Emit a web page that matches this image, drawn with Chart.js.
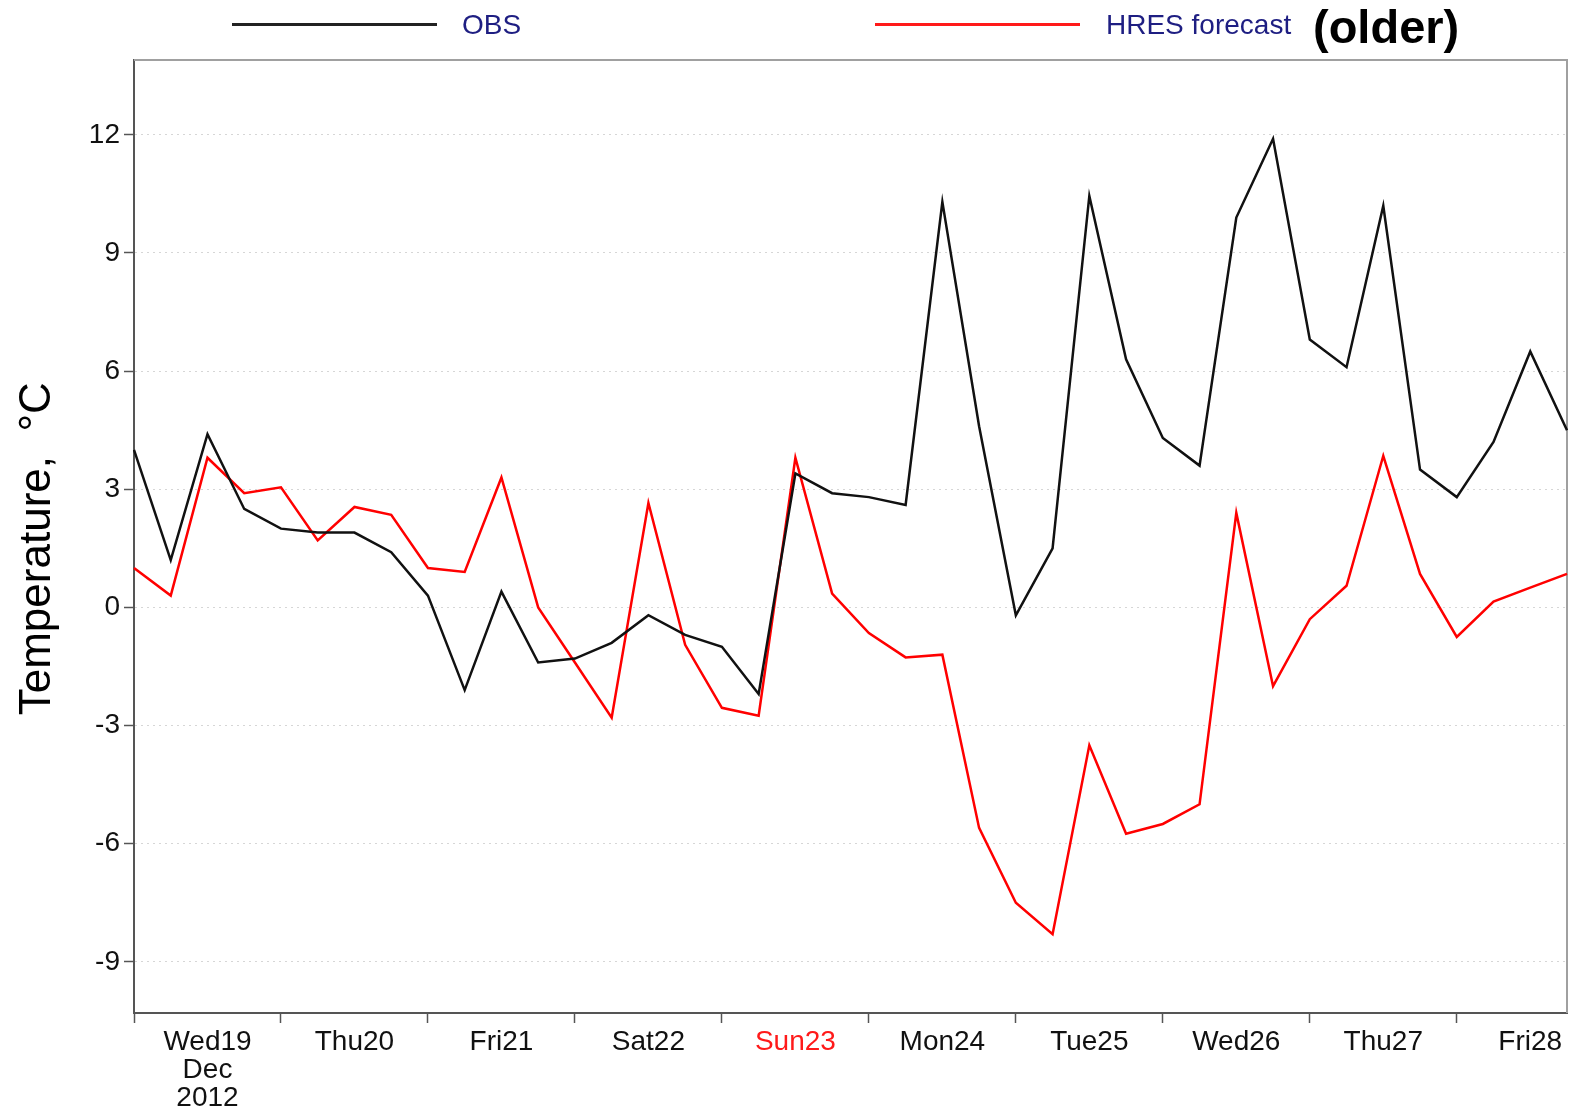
<!DOCTYPE html>
<html lang="en">
<head>
<meta charset="UTF-8">
<title>OBS vs HRES forecast</title>
<script src="https://cdn.jsdelivr.net/npm/chart.js"></script>
<style>
    body { margin: 0; background: #fff; font-family: 'Liberation Sans', Arial, sans-serif; }
    #wrap { position: relative; width: 1572px; height: 1109px; }
    #chart { position: absolute; left: 0; top: 0; }
    .key-line { position: absolute; height: 3px; }
    .key-text { position: absolute; font-size: 28px; line-height: 1; color: #1e1e82; white-space: nowrap; }
    #older { position: absolute; left: 1313px; top: 3px; font-size: 47px; line-height: 1; font-weight: bold; color: #000; }
</style>
</head>
<body>
<div id="wrap">
    <canvas id="chart" width="1572" height="1109"></canvas>
    <div class="key-line" style="left:232px; top:23px; width:205px; background:#222;"></div>
    <div class="key-text" style="left:462px; top:11px;">OBS</div>
    <div class="key-line" style="left:875px; top:23px; width:205px; background:#ff1a1a;"></div>
    <div class="key-text" style="left:1106px; top:11px;">HRES forecast</div>
    <div id="older">(older)</div>
</div>
<script>
    // 6-hourly steps, 19 Dec 2012 00 UTC .. 28 Dec 18 UTC
    const days = [['Wed19', 'Dec', '2012'], 'Thu20', 'Fri21', 'Sat22', 'Sun23', 'Mon24', 'Tue25', 'Wed26', 'Thu27', 'Fri28'];
    const hours = ['00', '06', '12', '18'];
    const yTicks = [-9, -6, -3, 0, 3, 6, 9, 12];

    const obs = [4.0, 1.2, 4.4, 2.5, 2.0, 1.9, 1.9, 1.4,
                 0.3, -2.1, 0.4, -1.4, -1.3, -0.9, -0.2, -0.7,
                 -1.0, -2.2, 3.4, 2.9, 2.8, 2.6, 10.3, 4.6,
                 -0.2, 1.5, 10.45, 6.3, 4.3, 3.6, 9.9, 11.9,
                 6.8, 6.1, 10.2, 3.5, 2.8, 4.2, 6.5, 4.5];
    const hres = [1.0, 0.3, 3.8, 2.9, 3.05, 1.7, 2.55, 2.35,
                  1.0, 0.9, 3.3, 0.0, -1.4, -2.8, 2.65, -0.95,
                  -2.55, -2.75, 3.8, 0.35, -0.65, -1.27, -1.2, -5.6,
                  -7.5, -8.3, -3.5, -5.75, -5.5, -5.0, 2.4, -2.0,
                  -0.3, 0.55, 3.85, 0.85, -0.75, 0.15, 0.5, 0.85];

    const dayName = d => Array.isArray(d) ? d[0] : d;
    const times = days.flatMap(d => hours.map(h => dayName(d) + ' ' + h));
    const sundayIdx = days.indexOf('Sun23');
    const font = "'Liberation Sans', Arial, sans-serif";

    const framePlugin = {
        id: 'frame',
        beforeDatasetsDraw(chart) {
            const { ctx, chartArea: a } = chart;
            ctx.save();
            ctx.strokeStyle = '#a0a0a0';
            ctx.lineWidth = 2;
            ctx.beginPath();
            ctx.moveTo(a.left, a.top);
            ctx.lineTo(a.right, a.top);
            ctx.lineTo(a.right, a.bottom);
            ctx.stroke();
            ctx.restore();
        }
    };

    new Chart(document.getElementById('chart'), {
        type: 'line',
        data: {
            labels: times,
            datasets: [
                { label: 'OBS', data: obs, borderColor: '#111', borderWidth: 2.5, pointRadius: 0, tension: 0 },
                { label: 'HRES forecast', data: hres, borderColor: '#ff0000', borderWidth: 2.5, pointRadius: 0, tension: 0 }
            ]
        },
        options: {
            responsive: false,
            animation: false,
            devicePixelRatio: 1,
            layout: { padding: { top: 60, right: 4, left: 0, bottom: 0 } },
            plugins: { legend: { display: false }, tooltip: { enabled: false } },
            scales: {
                x: {
                    type: 'category',
                    offset: false,
                    afterFit: s => { s.height = 96; },
                    grid: {
                        drawOnChartArea: false,
                        tickLength: 10,
                        tickWidth: 1.5,
                        tickColor: c => (c.index % 4 === 0 ? '#555' : 'rgba(0,0,0,0)')
                    },
                    border: { color: '#555', width: 2 },
                    ticks: {
                        autoSkip: false,
                        maxRotation: 0,
                        padding: 5,
                        font: { family: font, size: 28, lineHeight: 1.0 },
                        color: c => (Math.floor(c.index / 4) === sundayIdx ? '#ff1a1a' : '#111'),
                        callback: (v, i) => (i % 4 === 2 ? days[i / 4 | 0] : '')
                    }
                },
                y: {
                    min: -10.3,
                    max: 13.9,
                    afterFit: s => { s.width = 134; },
                    afterBuildTicks: s => { s.ticks = yTicks.map(v => ({ value: v })); },
                    grid: {
                        color: '#d6d6d6',
                        lineWidth: 1,
                        tickLength: 10,
                        tickColor: '#555',
                        tickWidth: 1.5
                    },
                    border: { color: '#555', width: 2, dash: [2, 4] },
                    ticks: {
                        padding: 4,
                        font: { family: font, size: 28 },
                        color: '#111'
                    },
                    title: {
                        display: true,
                        text: 'Temperature,  °C  ',
                        color: '#000',
                        padding: { top: 11, bottom: 0 },
                        font: { family: font, size: 44 }
                    }
                }
            }
        },
        plugins: [framePlugin]
    });
</script>
</body>
</html>
